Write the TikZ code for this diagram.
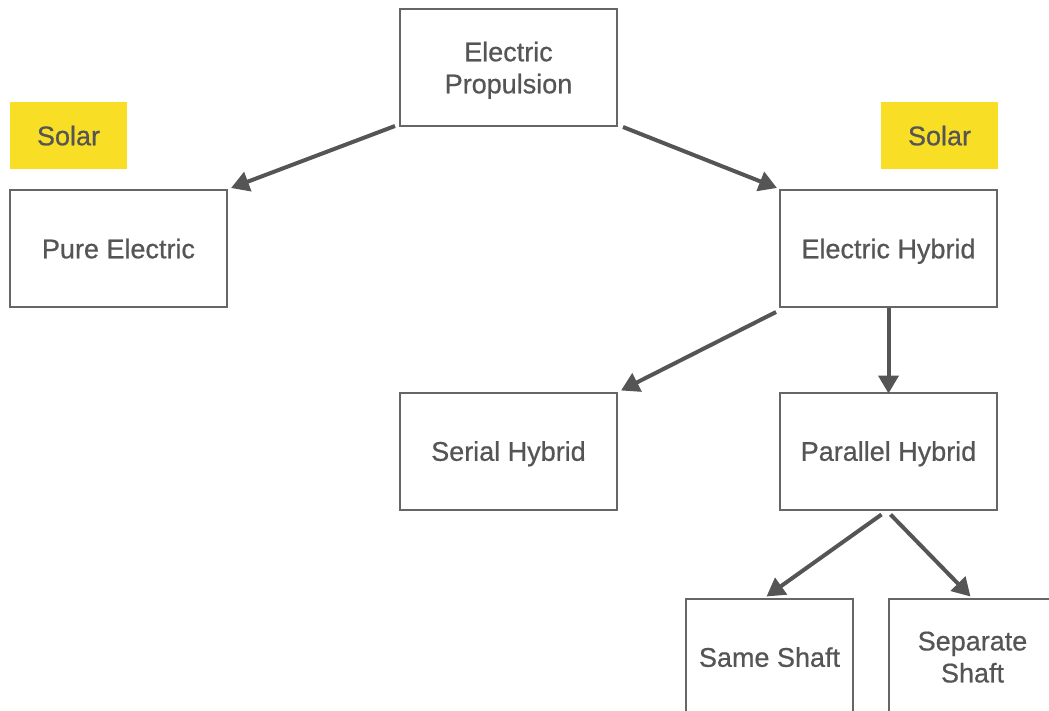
\documentclass[tikz,border=0pt]{standalone}
\usepackage{fontspec}
\setmainfont{Liberation Sans}[BoldFont=Liberation Sans, BoldFeatures={FakeBold=0.6}]
\usetikzlibrary{arrows.meta}
\definecolor{txtgray}{HTML}{555555}
\definecolor{boxgray}{HTML}{666666}
\definecolor{arrgray}{HTML}{555555}
\definecolor{solaryellow}{HTML}{F8DF26}
\tikzset{
  box/.style={draw=boxgray, line width=1pt, fill=white, minimum width=108.5pt, minimum height=58.5pt, inner sep=0pt, align=center, text=txtgray, text depth=0pt, font=\fontsize{13.5}{16}\selectfont\bfseries},
  smallbox/.style={box, minimum width=83.5pt},
  solarbox/.style={fill=solaryellow, minimum width=58.5pt, minimum height=33.5pt, inner sep=0pt, text=txtgray, text depth=0pt, font=\fontsize{13.5}{16}\selectfont\bfseries},
  conn/.style={draw=arrgray, line width=2pt, -{Triangle[length=9pt,width=10pt]}}
}
\begin{document}
\begin{tikzpicture}[x=0.5pt,y=-0.5pt]
\useasboundingbox (0,0) rectangle (1049,711);
\node[box] (ep) at (508.5,67.5) {Electric\\Propulsion};
\node[solarbox] (sl) at (68.5,135.5) {Solar};
\node[solarbox] (sr) at (939.5,135.5) {Solar};
\node[box] (pe) at (118.5,248.5) {Pure Electric};
\node[box] (eh) at (888.5,248.5) {Electric Hybrid};
\node[box] (sh) at (508.5,451) {Serial Hybrid};
\node[box] (ph) at (888.5,451) {Parallel Hybrid};
\node[smallbox] (ss) at (769.5,657) {Same Shaft};
\node[smallbox] (sp) at (972.5,657) {Separate\\Shaft};
\draw[conn] ([shift={(-4,-1)}]ep.south west) -- ([shift={(3,-1)}]pe.north east);
\draw[conn] ([shift={(5,0)}]ep.south east) -- ([shift={(-2,-1)}]eh.north west);
\draw[conn] ([shift={(-3,4)}]eh.south west) -- ([shift={(3,-1)}]sh.north east);
\draw[conn] (eh.south) -- ([yshift=-1]ph.north);
\draw[conn] ([shift={(-7,4)}]ph.south) -- ([shift={(-3,-1)}]ss.north);
\draw[conn] ([shift={(2,4)}]ph.south) -- ([shift={(-2,-1)}]sp.north);
\end{tikzpicture}
\end{document}
